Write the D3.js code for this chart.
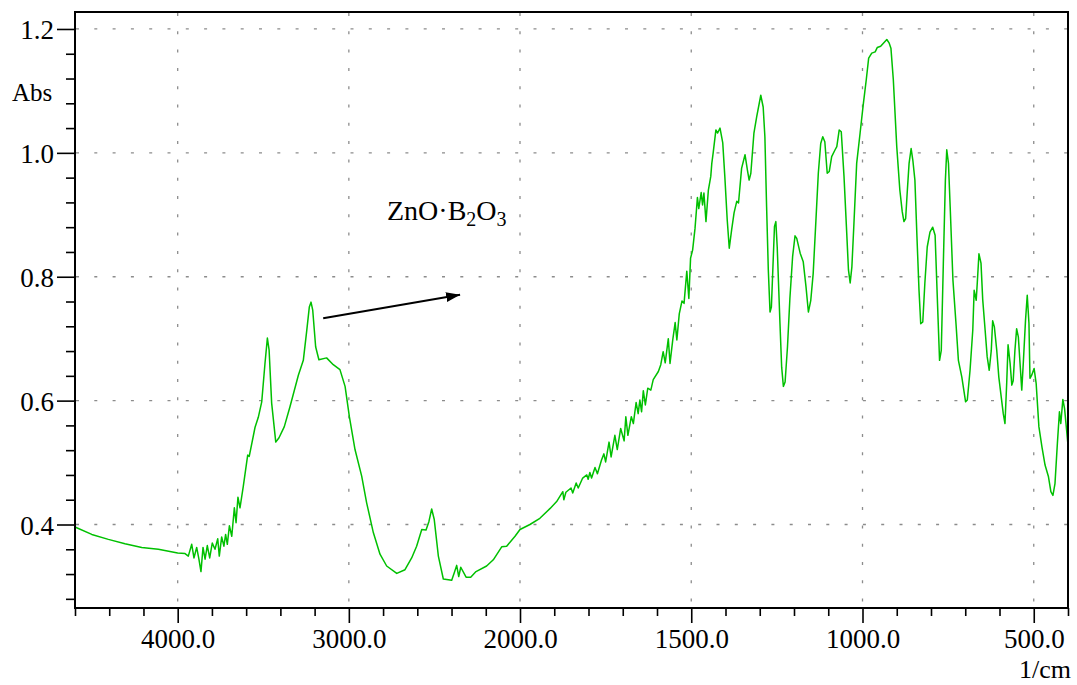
<!DOCTYPE html>
<html>
<head>
<meta charset="utf-8">
<script src="https://cdn.jsdelivr.net/npm/d3@7.9.0/dist/d3.min.js"></script>
<style>
  body { margin: 0; background: #fff; }
  svg { display: block; }
  svg text { font-family: "Liberation Serif", "Times New Roman", serif; }
</style>
</head>
<body>
<svg id="chart" width="1077" height="685"></svg>
<script>
// FTIR spectrum of ZnO·B2O3
const wavenumber = [
  4600, 4502, 4405, 4308, 4210, 4113, 4000, 3957, 3938, 3918, 3905, 3889, 3876, 3864, 3852, 3840,
  3827, 3813, 3798, 3782, 3766, 3757, 3743, 3730, 3720, 3710, 3698, 3684, 3669, 3659, 3648, 3636,
  3617, 3591, 3582, 3548, 3529, 3509, 3490, 3476, 3466, 3451, 3427, 3408, 3377, 3344, 3295, 3266,
  3246, 3231, 3221, 3211, 3194, 3175, 3130, 3091, 3052, 3022, 2997, 2964, 2925, 2896, 2857, 2818,
  2779, 2720, 2672, 2633, 2604, 2574, 2549, 2532, 2516, 2501, 2477, 2448, 2399, 2384, 2370, 2358,
  2346, 2315, 2288, 2257, 2195, 2156, 2107, 2078, 2029, 2000, 1971, 1942, 1912, 1893, 1875, 1872,
  1866, 1851, 1846, 1836, 1830, 1817, 1805, 1801, 1796, 1791, 1781, 1774, 1762, 1755, 1750, 1740,
  1734, 1723, 1716, 1706, 1696, 1691, 1685, 1675, 1669, 1661, 1655, 1650, 1645, 1640, 1634, 1627,
  1618, 1611, 1596, 1589, 1582, 1576, 1567, 1562, 1554, 1547, 1542, 1535, 1527, 1521, 1513, 1507,
  1502, 1496, 1489, 1482, 1478, 1471, 1467, 1463, 1457, 1450, 1443, 1440, 1436, 1428, 1423, 1416,
  1408, 1402, 1395, 1389, 1382, 1375, 1367, 1362, 1353, 1343, 1336, 1331, 1326, 1317, 1309, 1297,
  1290, 1285, 1280, 1275, 1270, 1266, 1260, 1257, 1253, 1249, 1241, 1236, 1231, 1226, 1219, 1212,
  1204, 1197, 1192, 1182, 1173, 1165, 1158, 1151, 1144, 1136, 1129, 1122, 1116, 1110, 1103, 1097,
  1090, 1080, 1075, 1068, 1062, 1054, 1046, 1041, 1036, 1031, 1025, 1017, 1007, 998, 989, 982,
  973, 963, 957, 947, 939, 929, 922, 917, 910, 900, 891, 884, 879, 874, 869, 864,
  858, 853, 847, 841, 835, 830, 824, 818, 811, 803, 795, 788, 781, 775, 770, 764,
  758, 754, 749, 744, 736, 727, 720, 710, 699, 694, 686, 678, 674, 668, 665, 660,
  654, 649, 642, 636, 630, 624, 620, 615, 608, 602, 595, 589, 584, 579, 575, 569,
  564, 560, 555, 550, 545, 540, 535, 530, 524, 519, 514, 511, 506, 499, 493, 485,
  476, 467, 457, 450, 444, 438, 431, 425, 421, 415, 410, 404, 400
];
const absorbance = [
  0.396, 0.384, 0.376, 0.369, 0.363, 0.360, 0.354, 0.353, 0.349, 0.368, 0.346, 0.363, 0.344, 0.324, 0.363, 0.344,
  0.366, 0.346, 0.370, 0.360, 0.377, 0.349, 0.380, 0.365, 0.384, 0.368, 0.398, 0.381, 0.427, 0.403, 0.444, 0.427,
  0.461, 0.512, 0.510, 0.557, 0.573, 0.598, 0.660, 0.701, 0.682, 0.596, 0.533, 0.540, 0.558, 0.590, 0.641, 0.665,
  0.713, 0.751, 0.759, 0.746, 0.687, 0.666, 0.669, 0.658, 0.650, 0.623, 0.574, 0.521, 0.478, 0.435, 0.387, 0.352,
  0.333, 0.321, 0.327, 0.346, 0.365, 0.392, 0.391, 0.405, 0.425, 0.408, 0.349, 0.312, 0.310, 0.322, 0.334, 0.316,
  0.331, 0.315, 0.315, 0.324, 0.333, 0.343, 0.364, 0.365, 0.381, 0.392, 0.400, 0.410, 0.426, 0.437, 0.453, 0.440,
  0.452, 0.459, 0.451, 0.467, 0.459, 0.475, 0.480, 0.473, 0.484, 0.475, 0.492, 0.482, 0.504, 0.514, 0.501, 0.533,
  0.509, 0.544, 0.521, 0.555, 0.535, 0.574, 0.544, 0.574, 0.563, 0.597, 0.579, 0.601, 0.582, 0.616, 0.593, 0.620,
  0.617, 0.634, 0.647, 0.658, 0.679, 0.661, 0.700, 0.660, 0.698, 0.726, 0.698, 0.740, 0.761, 0.757, 0.809, 0.765,
  0.830, 0.843, 0.878, 0.928, 0.910, 0.936, 0.916, 0.935, 0.889, 0.940, 0.962, 0.983, 1.000, 1.037, 1.032, 1.040,
  1.016, 0.962, 0.892, 0.846, 0.876, 0.903, 0.922, 0.919, 0.975, 0.997, 0.972, 0.956, 0.967, 1.032, 1.058, 1.093,
  1.074, 1.026, 0.913, 0.811, 0.743, 0.751, 0.838, 0.881, 0.889, 0.848, 0.725, 0.654, 0.623, 0.630, 0.687, 0.765,
  0.833, 0.866, 0.862, 0.838, 0.824, 0.784, 0.743, 0.762, 0.805, 0.891, 0.967, 1.015, 1.026, 1.018, 0.967, 0.970,
  0.994, 1.005, 1.010, 1.037, 1.034, 0.962, 0.870, 0.811, 0.790, 0.816, 0.886, 0.983, 1.032, 1.077, 1.118, 1.153,
  1.161, 1.163, 1.170, 1.172, 1.177, 1.183, 1.177, 1.169, 1.118, 1.010, 0.940, 0.905, 0.889, 0.894, 0.940, 0.983,
  1.007, 0.988, 0.956, 0.864, 0.778, 0.724, 0.727, 0.789, 0.848, 0.872, 0.880, 0.867, 0.757, 0.665, 0.681, 0.821,
  0.956, 1.005, 0.983, 0.913, 0.795, 0.724, 0.665, 0.638, 0.598, 0.601, 0.649, 0.714, 0.778, 0.762, 0.789, 0.837,
  0.822, 0.763, 0.714, 0.671, 0.649, 0.681, 0.729, 0.719, 0.681, 0.638, 0.606, 0.579, 0.563, 0.628, 0.690, 0.660,
  0.625, 0.632, 0.681, 0.716, 0.703, 0.660, 0.617, 0.666, 0.730, 0.770, 0.725, 0.636, 0.641, 0.652, 0.628, 0.558,
  0.525, 0.496, 0.477, 0.453, 0.447, 0.466, 0.531, 0.582, 0.563, 0.602, 0.587, 0.552, 0.528
];

const xMajor = [4000, 3000, 2000, 1500, 1000, 500];
const xMinor = [4600, 4400, 4200, 3800, 3600, 3400, 3200, 2800, 2600, 2400, 2200,
  1900, 1800, 1700, 1600, 1400, 1300, 1200, 1100, 900, 800, 700, 600, 400];
const yMajor = [0.4, 0.6, 0.8, 1.0, 1.2];
const yMinor = [0.28, 0.32, 0.36, 0.44, 0.48, 0.52, 0.56, 0.64, 0.68, 0.72, 0.76,
  0.84, 0.88, 0.92, 0.96, 1.04, 1.08, 1.12, 1.16];

const label = { text: "ZnO·B", sub1: "2", mid: "O", sub2: "3", wn: 2777, abs: 0.892 };
const arrow = { from: [3150, 0.733], to: [2350, 0.771] };

const plotL = 75, plotR = 1068, plotT = 12, plotB = 608;
const serif = "'Liberation Serif', 'Times New Roman', serif";

const svg = d3.select("#chart");

// the axis is compressed two-to-one above 2000 1/cm
const x = d3.scaleLinear().domain([4600, 2000, 400]).range([plotL, 520, plotR]);
const y = d3.scaleLinear().domain([0.2652, 1.2274]).range([plotB, plotT]);

svg.append("rect").attr("width", 1077).attr("height", 685).attr("fill", "#fff");

// dotted grid
const grid = svg.append("g")
  .attr("stroke", "#8c8c8c")
  .attr("stroke-width", 1.3)
  .attr("stroke-dasharray", "3 15.3");
grid.selectAll(".gx").data(xMajor).join("line")
  .attr("class", "gx")
  .attr("x1", d => x(d)).attr("x2", d => x(d))
  .attr("y1", plotT + 1).attr("y2", plotB);
grid.selectAll(".gy").data(yMajor).join("line")
  .attr("class", "gy")
  .attr("y1", d => y(d)).attr("y2", d => y(d))
  .attr("x1", plotL + 1).attr("x2", plotR);

// spectrum
const pts = wavenumber.map((w, i) => [w, absorbance[i]]);
const line = d3.line().x(d => x(d[0])).y(d => y(d[1]));
svg.append("path")
  .datum(pts)
  .attr("d", line)
  .attr("fill", "none")
  .attr("stroke", "#00c000")
  .attr("stroke-width", 1.5)
  .attr("stroke-linejoin", "round");

// axes
function styleAxis(g) {
  g.attr("font-family", serif).attr("font-size", 27);
  g.select(".domain").remove();
  g.selectAll("line").attr("stroke", "#000").attr("stroke-width", 1.6);
  g.selectAll("text").attr("fill", "#000").style("font-family", serif).style("font-size", "27px");
}

svg.append("g").attr("transform", `translate(0,${plotB})`)
  .call(d3.axisBottom(x).tickValues(xMinor).tickSize(8).tickFormat(""))
  .call(styleAxis);
svg.append("g").attr("transform", `translate(0,${plotB})`)
  .call(d3.axisBottom(x).tickValues(xMajor).tickSize(15).tickFormat(d3.format(".1f")))
  .call(styleAxis)
  .call(g => g.selectAll("text").attr("y", 40).attr("dy", 0));

svg.append("g").attr("transform", `translate(${plotL},0)`)
  .call(d3.axisLeft(y).tickValues(yMinor).tickSize(9).tickFormat(""))
  .call(styleAxis);
svg.append("g").attr("transform", `translate(${plotL},0)`)
  .call(d3.axisLeft(y).tickValues(yMajor).tickSize(18).tickFormat(d3.format(".1f")))
  .call(styleAxis)
  .call(g => g.selectAll("text").attr("x", -21).attr("dy", 0).attr("y", 10));

// frame
svg.append("rect")
  .attr("x", plotL).attr("y", plotT)
  .attr("width", plotR - plotL).attr("height", plotB - plotT)
  .attr("fill", "none").attr("stroke", "#000").attr("stroke-width", 2);

svg.append("text").attr("x", 12).attr("y", 101)
  .style("font-family", serif).style("font-size", "25px").text("Abs");
svg.append("text").attr("x", 1071).attr("y", 678)
  .attr("text-anchor", "end")
  .style("font-family", serif).style("font-size", "26px").text("1/cm");

// annotation
const t = svg.append("text")
  .attr("x", x(label.wn)).attr("y", y(label.abs))
  .style("font-family", serif).style("font-size", "28px");
t.append("tspan").text(label.text);
t.append("tspan").style("font-size", "20px").attr("dy", 6).text(label.sub1);
t.append("tspan").attr("dy", -6).text(label.mid);
t.append("tspan").style("font-size", "20px").attr("dy", 6).text(label.sub2);

svg.append("defs").append("marker")
  .attr("id", "head")
  .attr("viewBox", "0 0 14 10")
  .attr("refX", 14).attr("refY", 5)
  .attr("markerWidth", 14).attr("markerHeight", 10)
  .attr("markerUnits", "userSpaceOnUse")
  .attr("orient", "auto")
  .append("path").attr("d", "M0,0 L14,5 L0,10 Z").attr("fill", "#000");

svg.append("line")
  .attr("x1", x(arrow.from[0])).attr("y1", y(arrow.from[1]))
  .attr("x2", x(arrow.to[0])).attr("y2", y(arrow.to[1]))
  .attr("stroke", "#000").attr("stroke-width", 2)
  .attr("marker-end", "url(#head)");
</script>
</body>
</html>
